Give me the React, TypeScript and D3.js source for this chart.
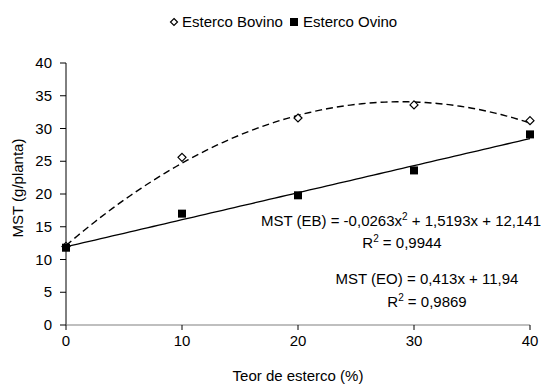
import React from 'react';
import * as d3 from 'd3';

// Data
const doses = [0, 10, 20, 30, 40];
const bovino = [12.0, 25.6, 31.6, 33.6, 31.2];
const ovino = [11.8, 17.0, 19.8, 23.6, 29.1];
const yTicks = [0, 5, 10, 15, 20, 25, 30, 35, 40];
const xTicks = [0, 10, 20, 30, 40];
// trendline coefficients (from the equations on the chart)
const ebCoef = [-0.0263, 1.5193, 12.141];
const eoCoef = [0.413, 11.94];

const W = 548;
const H = 386;
const FONT = '"Liberation Sans", Arial, sans-serif';

const App = () => {
  const x = d3.scaleLinear().domain([0, 40]).range([66, 530]);
  const y = d3.scaleLinear().domain([0, 40]).range([325, 63]);

  const samples = d3.range(0, 40.01, 0.5);
  const line = d3.line<[number, number]>()
    .x(d => x(d[0]))
    .y(d => y(d[1]));

  const ebPath = line(samples.map(v => [v, ebCoef[0] * v * v + ebCoef[1] * v + ebCoef[2]] as [number, number]));
  const eoPath = line(samples.map(v => [v, eoCoef[0] * v + eoCoef[1]] as [number, number]));

  const diamond = (cx: number, cy: number, r: number) =>
    `M${cx},${cy - r}L${cx + r},${cy}L${cx},${cy + r}L${cx - r},${cy}Z`;

  return (
    <svg width={W} height={H} style={{ position: 'absolute', left: 0, top: 0, background: '#fff' }}
      fontFamily={FONT}>
      <rect width={W} height={H} fill="#fff" />

      {/* legend */}
      <path d={diamond(174, 22, 3.5)} fill="#fff" stroke="#000" strokeWidth={1.2} />
      <text x={182} y={27} fontSize={15} fill="#000">Esterco Bovino</text>
      <rect x={290} y={18} width={8} height={8} fill="#000" />
      <text x={303} y={27} fontSize={15} fill="#000">Esterco Ovino</text>

      {/* y axis */}
      <line x1={66} x2={66} y1={y(40)} y2={y(0)} stroke="#000" strokeWidth={1} />
      {yTicks.map(t => (
        <g key={'y' + t}>
          <line x1={60} x2={66} y1={y(t)} y2={y(t)} stroke="#000" />
          <text x={52} y={y(t) + 5} fontSize={15} textAnchor="end" fill="#000">{t}</text>
        </g>
      ))}

      {/* x axis */}
      <line x1={66} x2={530} y1={y(0)} y2={y(0)} stroke="#808080" strokeWidth={1.2} />
      {xTicks.map(t => (
        <g key={'x' + t}>
          <line x1={x(t)} x2={x(t)} y1={y(0)} y2={y(0) + 5} stroke="#000" />
          <text x={x(t)} y={346} fontSize={15} textAnchor="middle" fill="#000">{t}</text>
        </g>
      ))}

      {/* axis titles */}
      <text x={298} y={381} fontSize={15} textAnchor="middle" fill="#000">Teor de esterco (%)</text>
      <text transform={`translate(23,188) rotate(-90)`} fontSize={15} textAnchor="middle" fill="#000">
        MST (g/planta)
      </text>

      {/* trendlines */}
      <path d={ebPath || ''} fill="none" stroke="#000" strokeWidth={1.4} strokeDasharray="7,4" />
      <path d={eoPath || ''} fill="none" stroke="#000" strokeWidth={1.3} />

      {/* points */}
      {doses.map((d, i) => (
        <path key={'b' + i} d={diamond(x(d), y(bovino[i]), 4)} fill="#fff" stroke="#000" strokeWidth={1.2} />
      ))}
      {doses.map((d, i) => (
        <rect key={'o' + i} x={x(d) - 4} y={y(ovino[i]) - 4} width={8} height={8} fill="#000" />
      ))}

      {/* equations */}
      <text x={401} y={226} fontSize={15} textAnchor="middle" fill="#000">
        MST (EB) = -0,0263x<tspan fontSize={10} dy={-6}>2</tspan><tspan dy={6}> + 1,5193x + 12,141</tspan>
      </text>
      <text x={402} y={248} fontSize={15} textAnchor="middle" fill="#000">
        R<tspan fontSize={10} dy={-6}>2</tspan><tspan dy={6}> = 0,9944</tspan>
      </text>
      <text x={427} y={284} fontSize={15} textAnchor="middle" fill="#000">MST (EO) = 0,413x + 11,94</text>
      <text x={427} y={307} fontSize={15} textAnchor="middle" fill="#000">
        R<tspan fontSize={10} dy={-6}>2</tspan><tspan dy={6}> = 0,9869</tspan>
      </text>
    </svg>
  );
};

export default App;
